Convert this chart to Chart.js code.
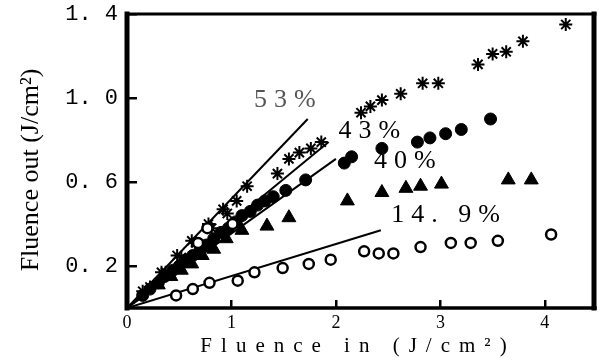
<!DOCTYPE html>
<html>
<head>
<meta charset="utf-8">
<script src="https://cdn.jsdelivr.net/npm/chart.js@4.4.1/dist/chart.umd.min.js"></script>
<style>
  html, body { margin: 0; padding: 0; background: #fff; }
  #wrap { width: 604px; height: 361px; }
</style>
</head>
<body>
<div id="wrap"><canvas id="chart" width="604" height="361"></canvas></div>
<script>
// tick values
const xTicks = [0, 1, 2, 3, 4];
const yTicks = [0.2, 0.6, 1.0, 1.4];

// star markers (upper series)
const starIn  = [0.15, 0.22, 0.33, 0.37, 0.48, 0.52, 0.62, 0.66, 0.78, 0.81, 0.92, 0.96, 1.05, 1.15, 1.44, 1.55, 1.65, 1.76, 1.86, 2.24, 2.33, 2.44, 2.62, 2.83, 2.98, 3.36, 3.50, 3.63, 3.79, 4.20];
const starOut = [0.08, 0.10, 0.17, 0.17, 0.25, 0.24, 0.32, 0.31, 0.40, 0.38, 0.47, 0.45, 0.51, 0.58, 0.64, 0.71, 0.74, 0.76, 0.79, 0.93, 0.96, 0.99, 1.02, 1.07, 1.07, 1.16, 1.21, 1.22, 1.27, 1.35];

// filled circles
const dotIn  = [0.15, 0.22, 0.30, 0.36, 0.44, 0.50, 0.57, 0.63, 0.70, 0.76, 0.83, 0.90, 0.97, 1.04, 1.10, 1.18, 1.25, 1.32, 1.40, 1.52, 1.71, 2.08, 2.15, 2.44, 2.78, 2.90, 3.05, 3.20, 3.48];
const dotOut = [0.06, 0.09, 0.12, 0.15, 0.18, 0.20, 0.23, 0.25, 0.28, 0.30, 0.33, 0.36, 0.38, 0.41, 0.44, 0.46, 0.49, 0.51, 0.53, 0.56, 0.61, 0.69, 0.72, 0.76, 0.79, 0.81, 0.83, 0.85, 0.90];

// filled triangles
const triIn  = [0.30, 0.42, 0.52, 0.62, 0.72, 0.83, 0.95, 1.10, 1.34, 1.55, 2.11, 2.44, 2.67, 2.81, 3.01, 3.65, 3.87];
const triOut = [0.11, 0.15, 0.18, 0.21, 0.25, 0.28, 0.33, 0.37, 0.39, 0.43, 0.51, 0.55, 0.57, 0.58, 0.59, 0.61, 0.61];

// open circles
const ringIn  = [0.47, 0.63, 0.79, 1.06, 1.22, 1.49, 1.74, 1.95, 2.27, 2.41, 2.55, 2.81, 3.10, 3.29, 3.55, 4.06];
const ringOut = [0.06, 0.09, 0.12, 0.13, 0.17, 0.19, 0.21, 0.23, 0.27, 0.26, 0.26, 0.29, 0.31, 0.31, 0.32, 0.35];

// open circles hidden in the dense bundle
const bundleIn  = [0.68, 0.77, 1.01];
const bundleOut = [0.31, 0.38, 0.40];

// straight lines from the origin, and their labels
const fitEndIn  = [1.73, 1.93, 2.00, 2.43];
const fitEndOut = [0.90, 0.79, 0.71, 0.37];
const fitNames  = ['53%', '43%', '40%', '14. 9%'];
const nameIn    = [1.51, 2.32, 2.66, 3.05];
const nameOut   = [0.99, 0.84, 0.70, 0.44];

const xTitle = 'Fluence in (J/cm²)';
const yTitle = 'Fluence out (J/cm²)';

const toPoints = (xs, ys) => xs.map((x, i) => ({ x: x, y: ys[i] }));

let datasets = [
  { data: toPoints(bundleIn, bundleOut), pointStyle: 'circle', pointRadius: 5,
    backgroundColor: '#fff', borderColor: '#000', borderWidth: 2.5 },
  { data: toPoints(ringIn, ringOut), pointStyle: 'circle', pointRadius: 5,
    backgroundColor: '#fff', borderColor: '#000', borderWidth: 2.5 },
  { data: toPoints(starIn, starOut), pointStyle: 'star', pointRadius: 6.5,
    backgroundColor: '#000', borderColor: '#000', borderWidth: 2 },
  { data: toPoints(dotIn, dotOut), pointStyle: 'circle', pointRadius: 6,
    backgroundColor: '#000', borderColor: '#000', borderWidth: 1 },
  { data: toPoints(triIn, triOut), pointStyle: 'triangle', pointRadius: 8,
    backgroundColor: '#000', borderColor: '#000', borderWidth: 1 }
];
fitEndIn.forEach((x, i) => {
  datasets.push({
    data: [{ x: 0, y: 0 }, { x: x, y: fitEndOut[i] }],
    showLine: true, pointRadius: 0, borderColor: '#000', borderWidth: 2
  });
});

// frame, line labels and axis titles
const paperPlugin = {
  id: 'paper',
  afterDatasetsDraw(chart) {
    const ctx = chart.ctx;
    const a = chart.chartArea;
    const xs = chart.scales.x, ys = chart.scales.y;
    ctx.save();
    ctx.strokeStyle = '#000';
    ctx.lineCap = 'square';
    ctx.lineWidth = 5;
    ctx.beginPath(); ctx.moveTo(a.left, a.top); ctx.lineTo(a.left, a.bottom); ctx.stroke();
    ctx.beginPath(); ctx.moveTo(a.right - 1, a.top); ctx.lineTo(a.right - 1, a.bottom); ctx.stroke();
    ctx.lineWidth = 3.5;
    ctx.beginPath(); ctx.moveTo(a.left, a.bottom); ctx.lineTo(a.right, a.bottom); ctx.stroke();
    ctx.lineWidth = 3;
    ctx.beginPath(); ctx.moveTo(a.left, a.top); ctx.lineTo(a.right, a.top); ctx.stroke();

    ctx.font = '26px "Liberation Serif"';
    ctx.textAlign = 'center';
    ctx.textBaseline = 'middle';
    ctx.letterSpacing = '7px';
    fitNames.forEach((t, i) => {
      ctx.fillStyle = i === 0 ? '#555' : '#000';
      ctx.fillText(t, xs.getPixelForValue(nameIn[i]) + 3.5, ys.getPixelForValue(nameOut[i]));
    });
    ctx.restore();
  },
  afterDraw(chart) {
    const ctx = chart.ctx;
    const a = chart.chartArea;
    ctx.save();
    ctx.fillStyle = '#000';
    ctx.textAlign = 'center';
    ctx.textBaseline = 'middle';
    ctx.font = '21px "Liberation Serif"';
    ctx.letterSpacing = '9px';
    ctx.fillText(xTitle, (a.left + a.right) / 2 - 3, a.bottom + 38);
    ctx.letterSpacing = '0px';
    ctx.font = '26px "Liberation Serif"';
    ctx.translate(31, (a.top + a.bottom) / 2 + 9);
    ctx.rotate(-Math.PI / 2);
    ctx.fillText(yTitle, 0, 0);
    ctx.restore();
  }
};

const chart = new Chart(document.getElementById('chart'), {
  type: 'scatter',
  data: { datasets: datasets },
  options: {
    responsive: false,
    animation: false,
    layout: { padding: { left: 0, right: 6, top: 14, bottom: 0 } },
    plugins: { legend: { display: false }, tooltip: { enabled: false } },
    scales: {
      x: {
        min: 0, max: 4.48,
        afterBuildTicks: s => { s.ticks = xTicks.map(v => ({ value: v })); },
        afterFit: s => { s.height = 53; s.paddingLeft = 0; s.paddingRight = 0; },
        border: { display: false },
        grid: { drawOnChartArea: false, drawTicks: true, tickLength: -8, color: '#000', lineWidth: 2.5 },
        ticks: {
          color: '#000', padding: 12, maxRotation: 0,
          font: { family: '"Liberation Serif"', size: 18 },
          callback: v => String(v)
        }
      },
      y: {
        min: 0, max: 1.4,
        afterBuildTicks: s => { s.ticks = yTicks.map(v => ({ value: v })); },
        afterFit: s => { s.width = 127; s.paddingTop = 0; s.paddingBottom = 0; },
        border: { display: false },
        grid: { drawOnChartArea: false, drawTicks: true, tickLength: -10, color: '#000', lineWidth: 2.5 },
        ticks: {
          color: '#000', padding: 19,
          font: { family: '"Liberation Mono"', size: 22 },
          callback: v => v.toFixed(1).replace('.', '. ')
        }
      }
    }
  },
  plugins: [paperPlugin]
});
</script>
</body>
</html>
